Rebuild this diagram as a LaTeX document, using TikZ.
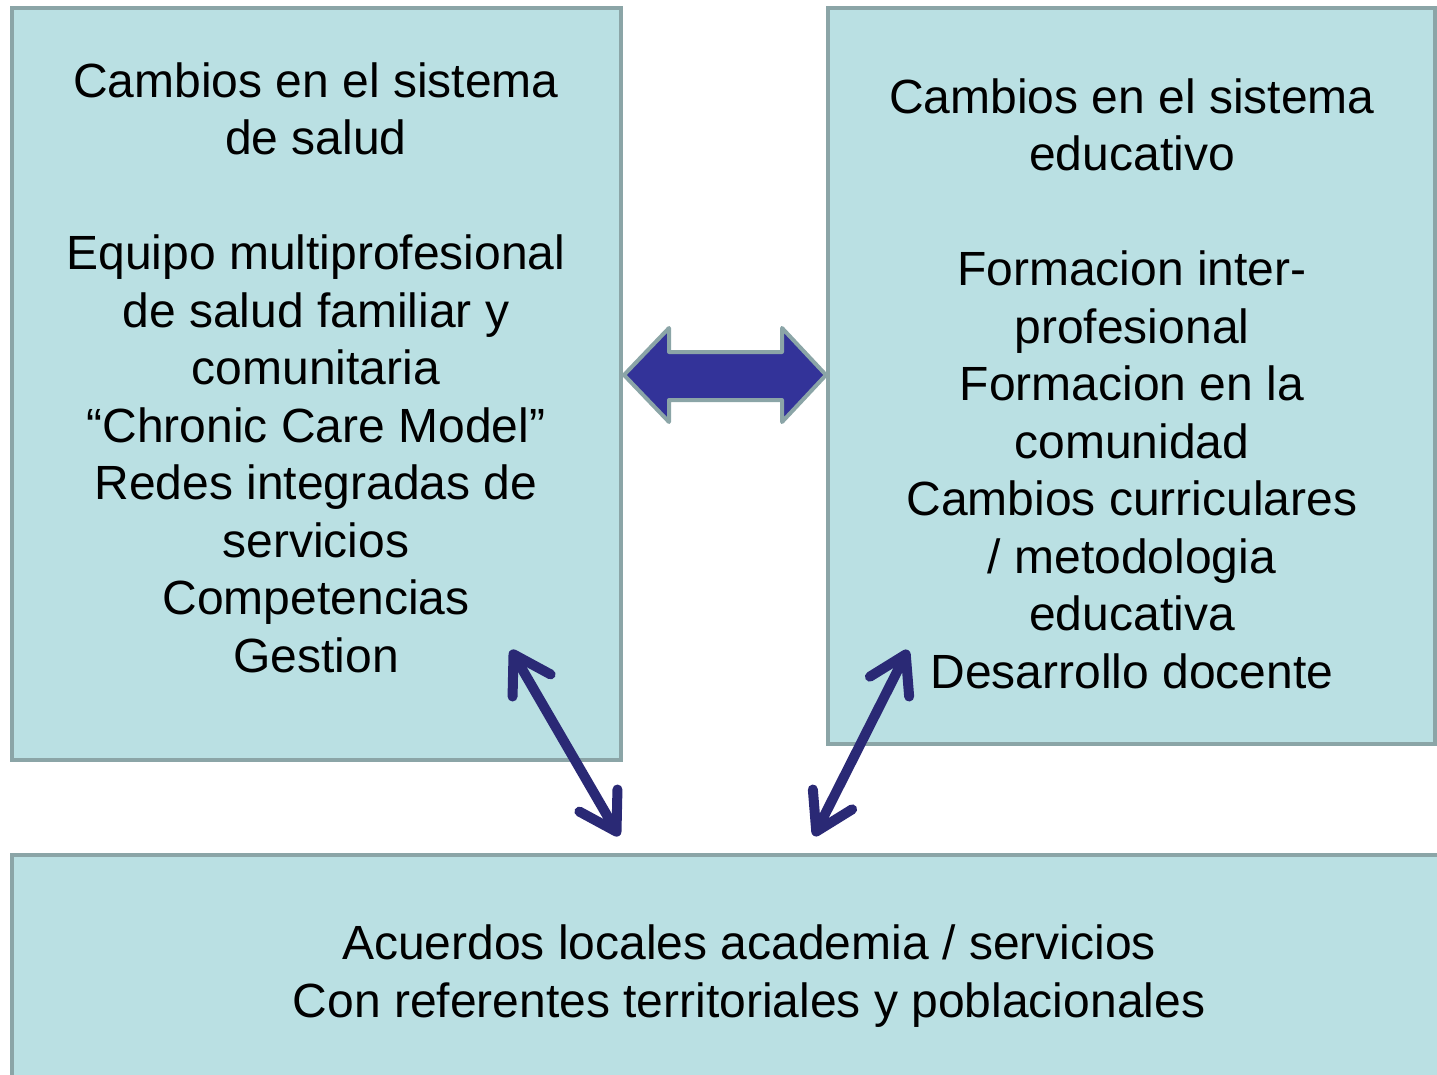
\documentclass[tikz,border=0pt]{standalone}
\usepackage{fontspec}
\setmainfont{Liberation Sans}
\usetikzlibrary{arrows.meta}
\definecolor{boxfill}{HTML}{BAE0E3}
\definecolor{boxline}{HTML}{8BA5A7}
\definecolor{bigarrow}{HTML}{333399}
\definecolor{smallarrow}{HTML}{2A2975}
\tikzset{
  panel/.style={draw=boxline, fill=boxfill, line width=4pt, inner sep=0pt},
  panetext/.style={align=center, font=\fontsize{48}{57.5}\selectfont, inner sep=0pt},
  linkarrow/.style={draw=smallarrow, line width=10pt, line cap=round,
    {Straight Barb[length=36pt,width=44pt,round]}-{Straight Barb[length=36pt,width=44pt,round]}},
}
\begin{document}
\begin{tikzpicture}[x=1pt,y=-1pt]
\useasboundingbox (0,0) rectangle (1437,1075);
\begin{scope}
\clip (0,0) rectangle (1437,1075);
\draw[panel] (12,8) rectangle (621,760);
\node (lbox) at (316.5,384) [minimum width=609pt, minimum height=752pt] {};
\draw[panel] (828,8) rectangle (1435,744);
\node (rbox) at (1131.5,376) [minimum width=607pt, minimum height=736pt] {};
\draw[panel] (12,855) rectangle (1460,1100);
\node (bbox) at (736,977) [minimum width=1448pt, minimum height=245pt] {};
\end{scope}

\node[panetext, anchor=base] (ltext) at (316,672) {Cambios en el sistema\\de salud\\[0pt]\strut\\Equipo multiprofesional\\de salud familiar y\\comunitaria\\“Chronic Care Model”\\Redes integradas de\\servicios\\Competencias\\Gestion};

\node[panetext, anchor=base] (rtext) at (1132,688) {Cambios en el sistema\\educativo\\[0pt]\strut\\Formacion inter-\\profesional\\Formacion en la\\comunidad\\Cambios curriculares\\/ metodologia\\educativa\\Desarrollo docente};

\node[panetext, anchor=base] (btext) at (749,1017) {Acuerdos locales academia / servicios\\Con referentes territoriales y poblacionales};

% big double arrow between the two panels
\draw[fill=bigarrow, draw=boxline, line width=4pt, line join=round]
  (624,375) -- (669,328) -- (669,352) -- (782,352) -- (782,328) -- (826,375)
  -- (782,422) -- (782,400) -- (669,400) -- (669,422) -- cycle;

\coordinate (la) at (511,650);
\coordinate (lb) at (619,836);
\coordinate (ra) at (908,650);
\coordinate (rb) at (814,836);
\draw[linkarrow] (la) -- (lb);
\draw[linkarrow] (ra) -- (rb);
\end{tikzpicture}
\end{document}
